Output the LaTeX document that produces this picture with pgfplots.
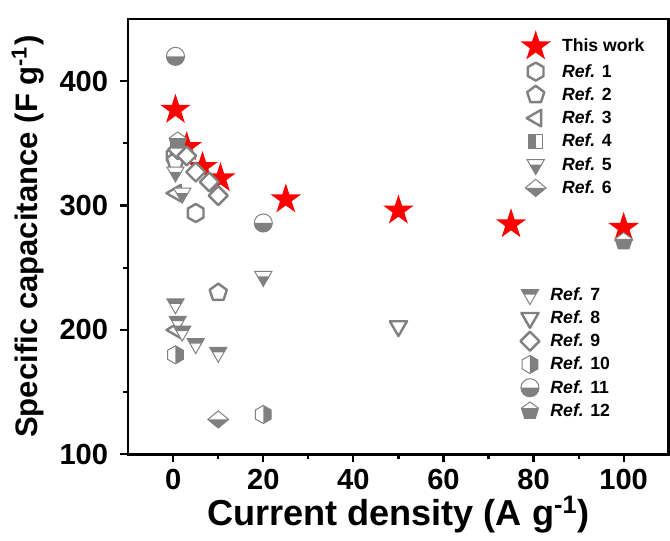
\documentclass[border=0pt]{standalone}
\usepackage{pgfplots}
\pgfplotsset{compat=1.18}
\usepackage{fontspec}
\setmainfont{Liberation Sans}
\definecolor{mg}{RGB}{128,128,128}
\definecolor{sred}{RGB}{255,0,0}
\newcommand{\mkp}[2]{\pgfqpoint{#1\pgfplotmarksize}{#2\pgfplotmarksize}}
% filled star
\pgfdeclareplotmark{fstar}{%
  \pgfpathmoveto{\mkp{0}{1}}\pgfpathlineto{\mkp{-0.2245}{0.309}}\pgfpathlineto{\mkp{-0.951}{0.309}}%
  \pgfpathlineto{\mkp{-0.3633}{-0.118}}\pgfpathlineto{\mkp{-0.588}{-0.809}}\pgfpathlineto{\mkp{0}{-0.382}}%
  \pgfpathlineto{\mkp{0.588}{-0.809}}\pgfpathlineto{\mkp{0.3633}{-0.118}}\pgfpathlineto{\mkp{0.951}{0.309}}%
  \pgfpathlineto{\mkp{0.2245}{0.309}}\pgfpathclose\pgfusepathqfill}
% open shapes
\newcommand{\hexpath}{\pgfpathmoveto{\mkp{0}{1}}\pgfpathlineto{\mkp{0.866}{0.5}}\pgfpathlineto{\mkp{0.866}{-0.5}}\pgfpathlineto{\mkp{0}{-1}}\pgfpathlineto{\mkp{-0.866}{-0.5}}\pgfpathlineto{\mkp{-0.866}{0.5}}\pgfpathclose}
\newcommand{\pentpath}{\pgfpathmoveto{\mkp{0}{1}}\pgfpathlineto{\mkp{0.951}{0.309}}\pgfpathlineto{\mkp{0.588}{-0.809}}\pgfpathlineto{\mkp{-0.588}{-0.809}}\pgfpathlineto{\mkp{-0.951}{0.309}}\pgfpathclose}
\newcommand{\ltripath}{\pgfpathmoveto{\mkp{-1}{0}}\pgfpathlineto{\mkp{0.6}{0.92}}\pgfpathlineto{\mkp{0.6}{-0.92}}\pgfpathclose}
\newcommand{\dtripath}{\pgfpathmoveto{\mkp{0}{-1.1}}\pgfpathlineto{\mkp{0.95}{0.55}}\pgfpathlineto{\mkp{-0.95}{0.55}}\pgfpathclose}
\newcommand{\diapath}{\pgfpathmoveto{\mkp{0}{1.05}}\pgfpathlineto{\mkp{1.05}{0}}\pgfpathlineto{\mkp{0}{-1.05}}\pgfpathlineto{\mkp{-1.05}{0}}\pgfpathclose}
\newcommand{\sqpath}{\pgfpathmoveto{\mkp{-0.8}{-0.8}}\pgfpathlineto{\mkp{0.8}{-0.8}}\pgfpathlineto{\mkp{0.8}{0.8}}\pgfpathlineto{\mkp{-0.8}{0.8}}\pgfpathclose}
\newcommand{\openmark}[1]{\pgfsetfillcolor{white}\pgfsetstrokecolor{mg}\pgfsetlinewidth{1.2pt}\pgfsetroundjoin#1\pgfusepathqfillstroke}
\pgfdeclareplotmark{hexo}{\openmark{\hexpath}}
\pgfdeclareplotmark{pento}{\openmark{\pentpath}}
\pgfdeclareplotmark{ltrio}{\openmark{\ltripath}}
\pgfdeclareplotmark{dtrio}{\openmark{\dtripath}}
\pgfdeclareplotmark{diao}{\openmark{\diapath}}
% half-filled shapes
\newcommand{\halfmark}[2]{\pgfsetlinewidth{0.5pt}\pgfsetfillcolor{white}#1\pgfusepathqfill\pgfsetfillcolor{mg}#2\pgfusepathqfill\pgfsetstrokecolor{mg}#1\pgfusepathqstroke}
\pgfdeclareplotmark{sqh}{\halfmark{\sqpath}{\pgfpathmoveto{\mkp{-0.8}{-0.8}}\pgfpathlineto{\mkp{0}{-0.8}}\pgfpathlineto{\mkp{0}{0.8}}\pgfpathlineto{\mkp{-0.8}{0.8}}\pgfpathclose}}
\pgfdeclareplotmark{trib}{\halfmark{\dtripath}{\pgfpathmoveto{\mkp{0}{-1.1}}\pgfpathlineto{\mkp{0.633}{0}}\pgfpathlineto{\mkp{-0.633}{0}}\pgfpathclose}}
\pgfdeclareplotmark{trit}{\halfmark{\dtripath}{\pgfpathmoveto{\mkp{-0.95}{0.55}}\pgfpathlineto{\mkp{0.95}{0.55}}\pgfpathlineto{\mkp{0.633}{0}}\pgfpathlineto{\mkp{-0.633}{0}}\pgfpathclose}}
\pgfdeclareplotmark{diab}{\halfmark{\pgfpathmoveto{\mkp{0}{0.95}}\pgfpathlineto{\mkp{1.15}{0}}\pgfpathlineto{\mkp{0}{-0.95}}\pgfpathlineto{\mkp{-1.15}{0}}\pgfpathclose}{\pgfpathmoveto{\mkp{-1.15}{0}}\pgfpathlineto{\mkp{1.15}{0}}\pgfpathlineto{\mkp{0}{-0.95}}\pgfpathclose}}
\pgfdeclareplotmark{hexr}{\halfmark{\hexpath}{\pgfpathmoveto{\mkp{0}{1}}\pgfpathlineto{\mkp{0.866}{0.5}}\pgfpathlineto{\mkp{0.866}{-0.5}}\pgfpathlineto{\mkp{0}{-1}}\pgfpathclose}}
\pgfdeclareplotmark{cirb}{\halfmark{\pgfpathcircle{\pgfpointorigin}{\pgfplotmarksize}}{\pgfpathmoveto{\mkp{-1}{0}}\pgfpatharc{180}{360}{\pgfplotmarksize}\pgfpathclose}}
\pgfdeclareplotmark{pentb}{\halfmark{\pentpath}{\pgfpathmoveto{\mkp{-0.951}{0.309}}\pgfpathlineto{\mkp{0.951}{0.309}}\pgfpathlineto{\mkp{0.588}{-0.809}}\pgfpathlineto{\mkp{-0.588}{-0.809}}\pgfpathclose}}

\pgfplotsset{
  common/.style={
    scale only axis, width=269.5pt, height=217pt,
    xmin=-10, xmax=110, ymin=100, ymax=450,
    clip=false,
    legend cell align=left,
    legend style={draw=none, fill=none, inner sep=0pt,
      font=\fontsize{8.8}{10}\selectfont\bfseries,
      row sep=0.6pt,
      /tikz/every odd column/.append style={column sep=4.5pt},
      nodes={inner sep=1pt, text height=0.72em, text depth=0.18em}},
  },
  rf/.style={only marks, mark size=4.5pt},
}

\begin{document}
\begin{tikzpicture}
\begin{axis}[common, name=main,
  xtick={0,20,40,60,80,100}, ytick={100,200,300,400},
  minor x tick num=1, minor y tick num=1,
  xtick pos=bottom, ytick pos=left, tick align=outside,
  major tick length=4pt, minor tick length=2.5pt,
  axis line style={line width=1.3pt},
  every tick/.style={black, line width=1.1pt},
  tick label style={font=\fontsize{14.5}{16}\selectfont\bfseries},
  yticklabel style={xshift=-2.5pt},
  /pgf/number format/assume math mode=true,
  xlabel={Current density (A g\textsuperscript{-1})},
  ylabel={Specific capacitance (F g\textsuperscript{-1})},
  xlabel style={font=\fontsize{18}{20}\selectfont\bfseries, yshift=4pt},
  ylabel style={font=\fontsize{15.5}{18}\selectfont\bfseries, yshift=1pt},
  legend style={at={(0.725,0.975)}, anchor=north west},
]
\addplot[only marks, mark=fstar, mark size=8pt, color=sred] coordinates {(0.5,377) (3,347) (6.5,331) (10.5,322) (25,305) (50,296) (75,285) (100,282)};
\addlegendentry{This work}
\addplot[rf, mark=hexo] coordinates {(0.3,340) (5,294)};
\addlegendentry{\textit{Ref.} 1}
\addplot[rf, mark=pento] coordinates {(0.5,336) (10,230)};
\addlegendentry{\textit{Ref.} 2}
\addplot[rf, mark=ltrio] coordinates {(0.5,310) (0.5,200)};
\addlegendentry{\textit{Ref.} 3}
\addplot[rf, mark=sqh] coordinates {(1,346)};
\addlegendentry{\textit{Ref.} 4}
\addplot[rf, mark=trib] coordinates {(0.5,327) (2,310) (20,243)};
\addlegendentry{\textit{Ref.} 5}
\addplot[rf, mark=diab] coordinates {(10,128)};
\addlegendentry{\textit{Ref.} 6}
\end{axis}
\begin{axis}[common, hide axis,
  legend style={at={(0.725,0.393)}, anchor=north west},
]
\addplot[rf, mark=trit] coordinates {(0.5,221) (1,207) (2,199) (5,189) (10,182)};
\addlegendentry{\textit{Ref.} 7}
\addplot[rf, mark=dtrio] coordinates {(50,203)};
\addlegendentry{\textit{Ref.} 8}
\addplot[rf, mark=diao] coordinates {(1,345) (3,340) (5,327) (8,319) (10,308)};
\addlegendentry{\textit{Ref.} 9}
\addplot[rf, mark=hexr] coordinates {(0.5,180) (20,132)};
\addlegendentry{\textit{Ref.} 10}
\addplot[rf, mark=cirb] coordinates {(0.5,420) (20,286)};
\addlegendentry{\textit{Ref.} 11}
\addplot[rf, mark=pentb] coordinates {(1,352) (100,271)};
\addlegendentry{\textit{Ref.} 12}
\end{axis}
\path (main.north) ++(0,9.5pt);
\path (main.outer west) ++(-2.5pt,0);
\end{tikzpicture}
\end{document}
